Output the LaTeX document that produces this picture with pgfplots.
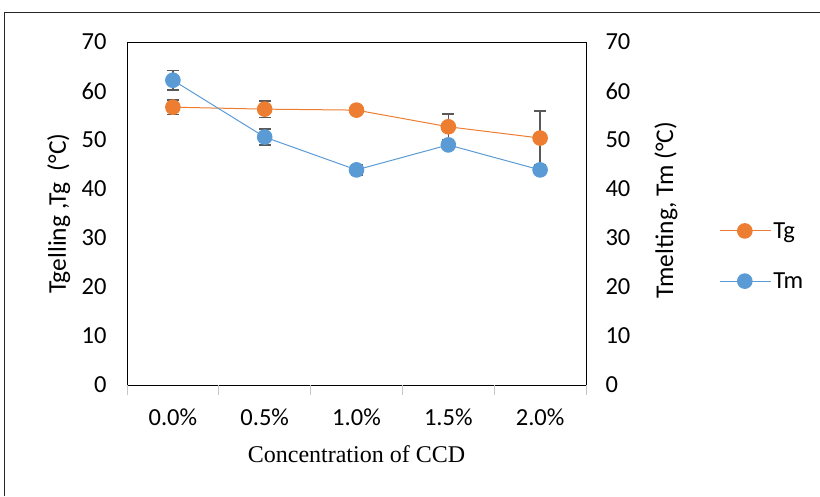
\documentclass[border=0pt]{standalone}
\usepackage{pgfplots}
\pgfplotsset{compat=1.18}
\usepackage{fontspec}
\setmainfont{Carlito}
\newfontfamily\timesfont{Liberation Serif}
\definecolor{cOrange}{HTML}{ED7D31}
\definecolor{cBlue}{HTML}{5B9BD5}
\definecolor{cErr}{HTML}{595959}
\begin{document}
\begin{tikzpicture}
\path[use as bounding box] (0,0) rectangle (820pt,496pt);
\draw[line width=0.9pt, black!85] (4pt,0pt) -- (4pt,484pt) -- (820pt,484pt);
\begin{axis}[
  at={(127pt,111pt)}, anchor=south west,
  scale only axis, width=459pt, height=343pt,
  xmin=-0.5, xmax=4.5, ymin=0, ymax=70,
  ytick={0,10,...,70},
  xtick={0,1,2,3,4},
  xticklabels={0.0\%,0.5\%,1.0\%,1.5\%,2.0\%},
  extra x ticks={-0.5,0.5,1.5,2.5,3.5,4.5},
  extra x tick labels={},
  tick align=outside,
  extra x tick style={major tick length=10pt, tick style={draw=black!22, line width=0.9pt}},
  major tick length=0pt,
  tick pos=left,
  axis line style={black, line width=0.9pt},
  /pgf/number format/assume math mode=true,
  tick label style={font=\fontsize{24.5}{28}\selectfont},
  yticklabel style={xshift=-17pt},
  xticklabel style={anchor=base, yshift=-40pt},
  xlabel={\timesfont Concentration of CCD},
  xlabel style={font=\fontsize{24}{28}\selectfont, at={(axis description cs:0.5,0)}, anchor=base, yshift=-77pt},
  ylabel={Tgelling ,Tg\ \ (°C)},
  ylabel style={font=\fontsize{25.5}{29}\selectfont, at={(axis description cs:-0.133,0.5)}, anchor=base},
  legend style={at={(axis description cs:1.29,0.376)}, anchor=west, draw=none, fill=none, inner sep=0pt, font=\fontsize{24.5}{28}\selectfont, row sep=29pt, /tikz/every even column/.style={column sep=0pt}},
  legend cell align=left,
  legend image code/.code={\draw[#1, mark repeat=2, mark phase=2] plot coordinates {(0pt,0pt) (25pt,0pt) (51pt,0pt)};},
  error bars/error bar style={color=cErr, line width=1.6pt},
  error bars/error mark options={rotate=90, mark size=6pt, line width=1.6pt, color=cErr},
]
\addplot[color=cOrange, line width=1pt, mark=*, mark size=7.3pt, mark options={fill=cOrange, draw=cOrange},
  error bars/.cd, y dir=both, y explicit]
  coordinates {(0,56.7) +- (0,1.5) (1,56.3) +- (0,1.7) (2,56.1) +- (0,0.3) (3,52.7) +- (0,2.6) (4,50.4) +- (0,5.5)};
\addlegendentry{Tg}
\addplot[color=cBlue, line width=1pt, mark=*, mark size=7.3pt, mark options={fill=cBlue, draw=cBlue},
  error bars/.cd, y dir=both, y explicit]
  coordinates {(0,62.2) +- (0,2.0) (1,50.6) +- (0,1.6) (2,43.9) +- (0,1.0) (3,49.0) +- (0,0.5) (4,43.9) +- (0,0.5)};
\addlegendentry{Tm}
\end{axis}
\begin{axis}[
  at={(127pt,111pt)}, anchor=south west,
  scale only axis, width=459pt, height=343pt,
  xmin=-0.5, xmax=4.5, ymin=0, ymax=70,
  ytick={0,10,...,70},
  hide x axis,
  axis y line*=right,
  major tick length=0pt,
  axis line style={black, line width=0.9pt},
  /pgf/number format/assume math mode=true,
  tick label style={font=\fontsize{24.5}{28}\selectfont},
  yticklabel style={xshift=16pt},
  ylabel={Tmelting, Tm (°C)},
  ylabel style={font=\fontsize{25.5}{29}\selectfont, at={(axis description cs:1.19,0.51)}, anchor=base},
]
\end{axis}
\end{tikzpicture}
\end{document}
